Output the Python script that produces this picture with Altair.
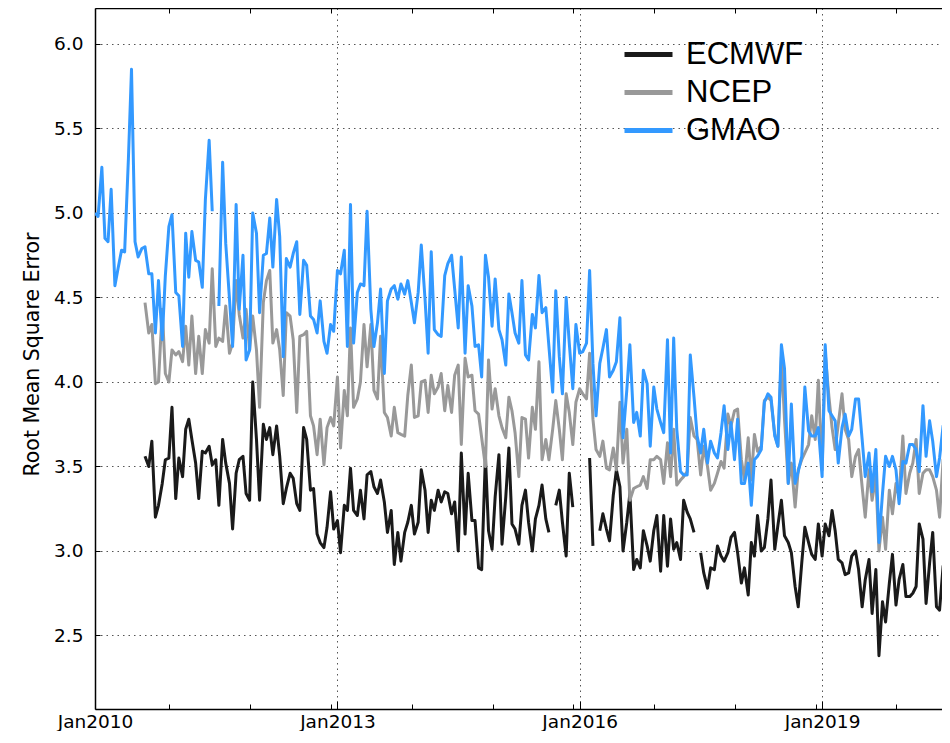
import altair as alt
import pandas as pd

N = 255
dates = pd.date_range("2010-01-01", periods=N, freq="SMS").strftime("%Y-%m-%d").tolist()

series_names = ["ECMWF", "NCEP", "GMAO"]
series_colors = ["#1a1a1a", "#999999", "#3399ff"]

gmao = [
    5.00, 4.98, 5.27, 4.85, 4.83, 5.14, 4.57, 4.67, 4.78, 4.77,
    5.32, 5.85, 4.83, 4.74, 4.79, 4.80, 4.64, 4.64, 4.29, 4.60,
    4.25, 4.63, 4.92, 4.99, 4.53, 4.51, 4.21, 4.88, 4.62, 4.89,
    4.72, 4.71, 4.56, 5.08, 5.43, 5.01, None, 4.45, 5.30, 4.82,
    4.49, 4.21, 5.05, 4.43, 4.75, 4.13, 4.19, 5.00, 4.88, 4.41,
    4.75, 4.76, 4.97, 4.68, 5.08, 4.86, 4.15, 4.73, 4.68, 4.76,
    4.83, 4.40, 4.72, 4.69, 4.39, 4.37, 4.29, 4.48, 4.24, 4.17,
    4.34, 4.30, 4.66, 4.64, 4.78, 4.21, 5.05, 4.23, 4.53, 4.58,
    4.57, 5.01, 4.43, 4.21, 4.35, 4.55, 4.05, 4.48, 4.55, 4.57,
    4.49, 4.58, 4.52, 4.60, 4.47, 4.35, 4.53, 4.81, 4.49, 4.17,
    4.77, 4.31, 4.28, 4.27, 4.63, 4.70, 4.75, 4.55, 4.32, 4.74,
    4.17, 4.57, 4.45, 4.21, 4.22, 4.03, 4.75, 4.62, 4.33, 4.61,
    4.31, 4.25, 4.10, 4.52, 4.41, 4.29, 4.23, 4.60, 4.16, 4.13,
    4.40, 4.32, 4.63, 4.41, 4.44, 4.21, 3.94, 4.54, 4.15, 3.93,
    4.50, 4.23, 3.96, 4.34, 4.17, 4.18, 4.23, 4.66, 4.11, 3.80,
    4.11, 4.20, 4.31, 4.03, 4.07, 4.12, 4.38, 3.67, 3.95, 4.22,
    3.76, 3.82, 3.68, 4.07, 3.99, 3.62, 3.97, 3.84, 3.76, 3.70,
    4.25, 3.58, 4.26, 3.72, 3.47, 3.45, 3.45, 4.16, 3.91, 3.68,
    3.58, 3.72, 3.52, 3.65, 3.58, 3.55, 3.70, 3.86, 3.60, 3.76,
    3.54, 3.78, 3.40, 3.40, 3.52, 3.27, 3.54, 3.56, 3.60, 3.88,
    3.93, 3.91, 3.68, 3.62, 4.22, 4.08, 3.40, 3.87, 3.40, 3.47,
    3.56, 3.97, 3.71, 3.68, 3.68, 3.73, 3.44, 4.22, 3.83, 3.80,
    3.77, 3.52, 3.73, 3.81, 3.68, 3.72, 3.90, 3.90, 3.66, 3.44,
    3.58, 3.35, 3.60, 3.05, 3.34, 3.56, 3.50, 3.56, 3.48, 3.28,
    3.53, 3.52, 3.63, 3.63, 3.60, 3.47, 3.86, 3.56, 3.77, 3.65,
    3.44, 3.55, 3.74, 3.58, 3.61,
]

ncep = [None] * 15 + [
    4.47, 4.29, 4.34, 3.99, 4.00,
    4.43, 4.05, 4.00, 4.19, 4.16, 4.18, 4.12, 4.33, 4.10, 4.39,
    4.05, 4.27, 4.05, 4.31, 4.23, 4.67, 4.21, 4.26, 4.24, 4.45,
    4.17, 4.23, 4.60, 4.40, 4.26, 4.43, 4.19, 4.39, 4.19, 3.85,
    4.47, 4.60, 4.66, 4.23, 4.31, 4.19, 3.92, 4.41, 4.39, 4.25,
    3.82, 4.27, 4.28, 4.30, 3.80, 3.74, 3.57, 3.78, 3.51, 3.73,
    3.79, 3.74, 4.03, 3.61, 3.95, 3.80, 4.32, 3.85, 3.90, 4.00,
    4.34, 4.09, 4.34, 3.95, 3.90, 4.27, 3.82, 3.79, 3.68, 3.85,
    3.70, 3.69, 3.68, 3.92, 4.10, 3.79, 3.80, 4.00, 4.01, 3.82,
    4.04, 3.93, 3.97, 4.05, 3.83, 3.98, 3.82, 4.04, 4.10, 3.63,
    4.14, 4.03, 4.04, 3.83, 3.81, 3.67, 3.50, 4.13, 3.84, 3.96,
    3.80, 3.73, 3.67, 3.91, 3.83, 3.70, 3.44, 3.79, 3.78, 3.55,
    3.85, 3.72, 4.12, 3.54, 3.66, 3.54, 3.72, 3.89, 3.72, 3.54,
    3.93, 3.82, 3.63, 3.88, 3.96, 3.93, 3.90, 4.17, 3.78, 3.60,
    3.56, 3.65, 3.49, 3.48, 3.61, 3.48, 3.88, 3.52, 3.72, 3.30,
    3.37, 3.38, 3.39, 3.44, 3.37, 3.54, 3.54, 3.56, 3.54, 3.40,
    3.64, 3.44, 3.72, 3.39, 3.42, 3.44, 3.47, 3.79, 3.68, 3.66,
    3.45, 3.62, 3.50, 3.36, 3.40, 3.46, 3.53, 3.49, 3.81, 3.74,
    3.83, 3.84, 3.54, 3.42, 3.67, 3.42, 3.69, 3.59, 3.62, 3.89,
    3.91, 3.89, 3.69, 3.62, 4.15, 3.78, 3.40, 3.52, 3.26, 3.48,
    3.54, 3.58, 3.63, 3.80, 3.66, 4.01, 3.48, 4.17, 3.91, 3.73,
    3.60, 3.75, 3.93, 3.72, 3.66, 3.44, 3.56, 3.60, 3.38, 3.20,
    3.48, 3.30, 3.44, 3.00, 3.20, 3.01, 3.36, 3.22, 3.40, 3.32,
    3.68, 3.34, 3.46, 3.52, 3.66, 3.34, 3.46, 3.48, 3.48, 3.44,
    3.36, 3.20, 3.54, 3.42, 3.46,
]

ecmwf = [None] * 15 + [
    3.56, 3.50, 3.65, 3.20, 3.27,
    3.40, 3.54, 3.55, 3.85, 3.31, 3.55, 3.44, 3.72, 3.78, 3.66,
    3.52, 3.31, 3.59, 3.58, 3.62, 3.51, 3.54, 3.27, 3.66, 3.52,
    3.40, 3.13, 3.46, 3.54, 3.56, 3.34, 3.30, 4.00, 3.66, 3.30,
    3.75, 3.66, 3.73, 3.57, 3.74, 3.56, 3.28, 3.37, 3.46, 3.43,
    3.28, 3.24, 3.73, 3.66, 3.36, 3.37, 3.10, 3.05, 3.02, 3.14,
    3.35, 3.13, 3.18, 2.99, 3.27, 3.24, 3.49, 3.24, 3.21, 3.36,
    3.19, 3.45, 3.47, 3.38, 3.34, 3.42, 3.29, 3.11, 3.24, 2.92,
    3.11, 2.94, 3.11, 3.17, 3.27, 3.10, 3.17, 3.48, 3.36, 3.11,
    3.30, 3.24, 3.36, 3.29, 3.35, 3.34, 3.22, 3.29, 3.00, 3.58,
    3.10, 3.46, 3.18, 3.18, 2.90, 2.89, 3.56, 3.12, 3.01, 3.32,
    3.57, 3.04, 3.32, 3.61, 3.16, 3.13, 3.04, 3.27, 3.36, 3.17,
    3.00, 3.19, 3.27, 3.39, 3.19, 3.11, None, 3.27, 3.36, 3.17,
    2.97, 3.46, 3.26, None, None, None, None, 3.55, 3.03, None,
    3.12, 3.22, 3.13, 3.06, 3.33, 3.48, 3.38, 3.00, 3.17, 3.34,
    2.89, 2.95, 2.90, 3.12, 3.03, 2.94, 3.12, 3.21, 2.88, 3.21,
    2.91, 3.19, 3.01, 3.05, 2.95, 3.30, 3.23, 3.19, 3.11, None,
    2.99, 2.87, 2.78, 2.90, 2.89, 3.03, 2.97, 2.94, 2.99, 3.08,
    3.11, 2.99, 2.81, 2.90, 2.74, 3.05, 2.97, 3.21, 3.00, 3.02,
    3.19, 3.42, 3.01, 3.15, 3.30, 3.09, 3.05, 2.99, 2.79, 2.67,
    2.93, 3.14, 3.05, 2.98, 2.95, 3.16, 2.97, 3.16, 3.09, 3.24,
    3.12, 2.95, 2.93, 2.86, 2.87, 2.97, 3.00, 2.89, 2.67, 2.83,
    2.95, 2.63, 2.89, 2.38, 2.70, 2.58, 2.81, 2.98, 2.68, 2.83,
    2.92, 2.73, 2.73, 2.75, 2.79, 3.16, 3.07, 2.69, 2.93, 3.11,
    2.67, 2.65, 2.91, 2.63, 2.82,
]

label_years = [2010, 2013, 2016, 2019]
minor_tick_years = list(range(2010, 2020))
y_ticks = [2.5, 3.0, 3.5, 4.0, 4.5, 5.0, 5.5, 6.0]


def fit(vals):
    vals = list(vals)[:N]
    return vals + [None] * (N - len(vals))


rows = []
for name, vals in zip(series_names, [ecmwf, ncep, gmao]):
    for d, v in zip(dates, fit(vals)):
        rows.append({"date": d, "series": name, "value": v})
df = pd.DataFrame(rows)

W, H = 847, 701

xscale = alt.Scale(
    type="utc",
    domain=[alt.DateTime(year=2010, month=1, date=1, utc=True),
            alt.DateTime(year=2020, month=6, date=26, utc=True)],
    nice=False,
)
yscale = alt.Scale(domain=[2.065, 6.213], nice=False, zero=False)
cscale = alt.Scale(domain=series_names, range=series_colors)

major_dates = [alt.DateTime(year=y, month=1, date=1, utc=True) for y in label_years]
minor_dates = [alt.DateTime(year=y, month=12, date=3, utc=True) for y in minor_tick_years]

grid_dash = [1.5, 4]
grid_color = "#555555"

ax_x_main = alt.Axis(
    orient="bottom", values=major_dates, format="%b%Y",
    labelFont="DejaVu Sans", labelFontSize=18.5, labelColor="black",
    labelPadding=3, labelFlush=False, labelOverlap=False,
    ticks=False, tickSize=0,
    domain=True, domainColor="black", domainWidth=1.5,
    grid=True, gridColor=grid_color, gridDash=grid_dash, gridWidth=1,
    title=None,
)
ax_y_main = alt.Axis(
    orient="left", values=y_ticks, format=".1f",
    labelFont="DejaVu Sans", labelFontSize=18.5, labelColor="black",
    labelPadding=12, ticks=False, tickSize=0,
    domain=True, domainColor="black", domainWidth=1.5,
    grid=True, gridColor=grid_color, gridDash=grid_dash, gridWidth=1,
    title="Root Mean Square Error", titleFont="DejaVu Sans", titleFontSize=20.5,
    titleFontWeight="normal", titleColor="black",
    titleX=-57, titleY=346, titleAngle=270, titleBaseline="alphabetic", titleAlign="center",
)
ax_x_inward = alt.Axis(
    orient="top", offset=-H, values=major_dates + minor_dates,
    labels=False, domain=False, grid=False,
    ticks=True, tickColor="black", tickWidth=1,
    tickSize={"condition": {"test": "utcmonth(datum.value) == 0", "value": 8}, "value": 5},
    title=None,
)
ax_y_inward = alt.Axis(
    orient="right", offset=-W, values=y_ticks,
    labels=False, domain=False, grid=False,
    ticks=True, tickColor="black", tickWidth=1, tickSize=5,
    title=None,
)
ax_x_top = alt.Axis(
    orient="bottom", offset=-H, values=minor_dates,
    labels=False, domain=True, domainColor="black", domainWidth=1.5, grid=False,
    ticks=True, tickColor="black", tickWidth=1, tickSize=5,
    title=None,
)

legend = alt.Legend(
    orient="none", legendX=538, legendY=31, title=None,
    symbolType="M-2,0L2,0", symbolSize=576, symbolStrokeWidth=5,
    labelFont="Liberation Sans", labelFontSize=31, labelColor="black",
    labelOffset=22, rowPadding=6, padding=0,
)

base = alt.Chart(df)


def layer(name, xaxis, yaxis):
    return base.transform_filter(alt.datum.series == name).mark_line(
        strokeWidth=3, strokeJoin="round", clip=True,
        invalid="break-paths-filter-domains",
    ).encode(
        x=alt.X("date:T", scale=xscale, axis=xaxis),
        y=alt.Y("value:Q", scale=yscale, axis=yaxis),
        color=alt.Color("series:N", scale=cscale, legend=legend),
    )


chart = alt.layer(
    layer("ECMWF", ax_x_main, ax_y_main),
    layer("NCEP", ax_x_inward, ax_y_inward),
    layer("GMAO", ax_x_top, None),
).resolve_axis(x="independent", y="independent").properties(
    width=W, height=H,
    autosize=alt.AutoSizeParams(type="none"),
    padding={"left": 87, "top": 0, "right": 0, "bottom": 22},
    background="white",
).configure_view(stroke=None)

chart.save("out.html", embed_options={"renderer": "svg", "actions": False})
